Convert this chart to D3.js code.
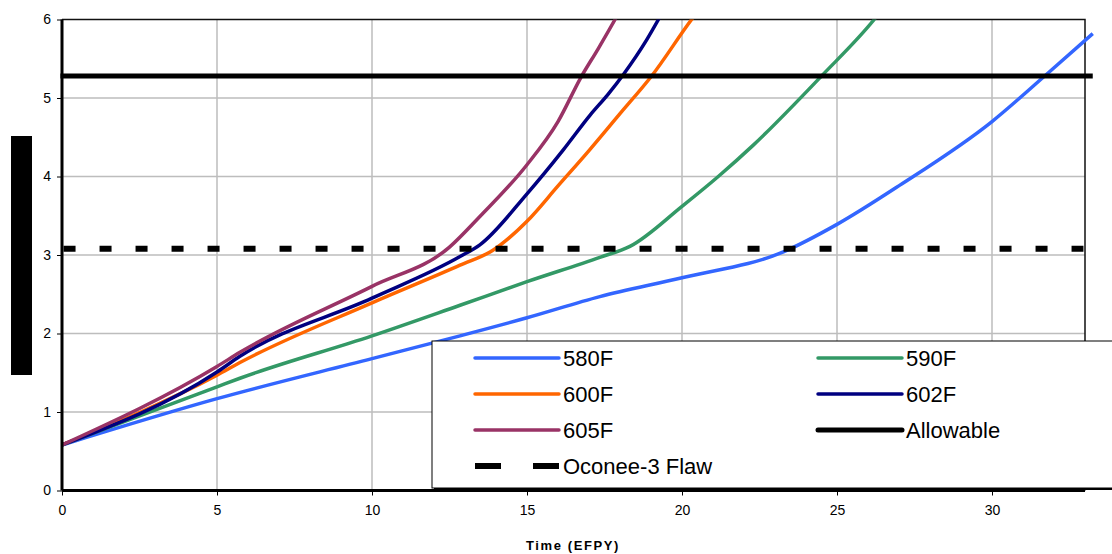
<!DOCTYPE html>
<html>
<head>
<meta charset="utf-8">
<script src="https://cdn.jsdelivr.net/npm/d3@7"></script>
<style>
  body { margin: 0; background: #fff; }
  svg { display: block; font-family: Arial, "Liberation Sans", sans-serif; }
</style>
</head>
<body>
<svg id="chart" width="1112" height="554"></svg>
<script>
// values: [time EFPY, depth]
let s580 = [[0,0.58],[5,1.17],[10,1.68],[12.84,1.97],[15,2.2],[17.35,2.47],[20,2.71],[23.27,3.04],[25,3.39],[27.03,3.89],[30,4.70],[31.7,5.28],[33.25,5.82]];
let s590 = [[0,0.58],[5,1.32],[5.74,1.43],[10,1.97],[12.84,2.36],[15,2.66],[17.35,2.97],[18.32,3.11],[20,3.62],[21.17,4.0],[22.3,4.4],[24.5,5.28],[26.2,6.0],[26.5,6.15]];
let s600 = [[0,0.58],[5,1.47],[5.74,1.63],[10,2.39],[12.84,2.87],[13.9,3.06],[15,3.43],[16,3.88],[17,4.33],[18,4.8],[19.02,5.28],[20.31,6.0],[20.6,6.15]];
let s602 = [[0,0.58],[5,1.51],[5.74,1.71],[10,2.45],[12.84,2.98],[13.48,3.13],[15,3.78],[16.17,4.34],[17.03,4.78],[17.62,5.05],[18.11,5.3],[18.86,5.74],[19.24,6.0],[19.45,6.15]];
let s605 = [[0,0.58],[5,1.58],[5.74,1.76],[10,2.6],[12.5,3.1],[13.48,3.49],[15,4.15],[16,4.7],[16.75,5.27],[17.3,5.63],[17.84,6.0],[18.05,6.15]];
let allowable = 5.28;
let flaw = 3.08;

let seriesNames = ["580F", "590F", "600F", "602F", "605F"];
let seriesColors = ["#3366ff", "#339966", "#ff6600", "#000080", "#993366"];
let seriesData = [s580, s590, s600, s602, s605];

let xTicks = [0, 5, 10, 15, 20, 25, 30];
let yTicks = [0, 1, 2, 3, 4, 5, 6];

let svg = d3.select("#chart");

let x = d3.scaleLinear().domain([0, 33]).range([62, 1085]);
let y = d3.scaleLinear().domain([0, 6]).range([490.5, 19.5]);

// gridlines
svg.append("g")
    .selectAll("line.vg")
    .data(xTicks.slice(1))
    .enter().append("line")
    .attr("x1", d => x(d)).attr("x2", d => x(d))
    .attr("y1", y(6)).attr("y2", y(0))
    .attr("stroke", "#bdbdbd").attr("stroke-width", 1.5);

svg.append("g")
    .selectAll("line.hg")
    .data(yTicks.slice(1, -1))
    .enter().append("line")
    .attr("x1", x(0)).attr("x2", x(33))
    .attr("y1", d => y(d)).attr("y2", d => y(d))
    .attr("stroke", "#bdbdbd").attr("stroke-width", 1.5);

// top and right border
svg.append("path")
    .attr("d", `M${x(0)},${y(6)}H${x(33)}V${y(0)}`)
    .attr("fill", "none").attr("stroke", "#111").attr("stroke-width", 1.5);

// clip curves at the top
svg.append("clipPath").attr("id", "clip")
    .append("rect")
    .attr("x", x(0)).attr("y", y(6))
    .attr("width", 1100 - x(0)).attr("height", y(0) - y(6));

let line = d3.line()
    .x(d => x(d[0])).y(d => y(d[1]))
    .curve(d3.curveMonotoneX);

svg.append("g").attr("clip-path", "url(#clip)")
    .selectAll("path")
    .data(seriesData)
    .enter().append("path")
    .attr("d", line)
    .attr("fill", "none")
    .attr("stroke", (d, i) => seriesColors[i])
    .attr("stroke-width", 3.5)
    .attr("stroke-linejoin", "round");

// allowable and flaw lines
svg.append("line")
    .attr("x1", x(-0.05)).attr("x2", x(33.25))
    .attr("y1", y(allowable)).attr("y2", y(allowable))
    .attr("stroke", "#000").attr("stroke-width", 5);

svg.append("line")
    .attr("x1", x(0.05)).attr("x2", x(32.95))
    .attr("y1", y(flaw)).attr("y2", y(flaw))
    .attr("stroke", "#000").attr("stroke-width", 6)
    .attr("stroke-dasharray", "12,24");

// axes
let xAxis = svg.append("g")
    .attr("transform", `translate(0,${y(0)})`)
    .call(d3.axisBottom(x).tickValues(xTicks).tickFormat(d3.format("d")).tickSize(5).tickPadding(10));
let yAxis = svg.append("g")
    .attr("transform", `translate(${x(0)},0)`)
    .call(d3.axisLeft(y).tickValues(yTicks).tickFormat(d3.format("d")).tickSize(5).tickPadding(6));

[xAxis, yAxis].forEach(function(a) {
    a.select(".domain").attr("stroke", "#000").attr("stroke-width", 3);
    a.selectAll(".tick line").attr("stroke", "#000").attr("stroke-width", 1);
    a.selectAll(".tick text")
        .attr("fill", "#000")
        .style("font-size", "14px")
        .style("font-family", "Arial, 'Liberation Sans', sans-serif");
});
xAxis.select(".domain").attr("d", `M${x(0)},0H${x(33)}`);
yAxis.select(".domain").attr("d", `M0,${y(0)}V${y(6)}`);

// axis titles
svg.append("text")
    .attr("x", 573).attr("y", 550)
    .attr("text-anchor", "middle")
    .style("font-size", "13px").style("font-weight", "bold")
    .style("letter-spacing", "1.6px")
    .text("Time (EFPY)");

// redacted y-axis title block
svg.append("rect")
    .attr("x", 11).attr("y", 136).attr("width", 21).attr("height", 239)
    .attr("fill", "#000");

// legend
let legend = svg.append("g");
legend.append("rect")
    .attr("x", 434).attr("y", 343).attr("width", 700).attr("height", 147)
    .attr("fill", "#000");
legend.append("rect")
    .attr("x", 432).attr("y", 341).attr("width", 700).attr("height", 147)
    .attr("fill", "#fff").attr("stroke", "#000").attr("stroke-width", 1);

let legendItems = seriesNames.map((n, i) => ({ name: n, color: seriesColors[i], w: 3.5, dash: null }));
legendItems.push({ name: "Allowable", color: "#000", w: 5, dash: null });
legendItems.push({ name: "Oconee-3 Flaw", color: "#000", w: 6, dash: "26,32" });

let item = legend.selectAll("g.item")
    .data(legendItems)
    .enter().append("g")
    .attr("transform", (d, i) => `translate(${i % 2 ? 818 : 475},${358 + Math.floor(i / 2) * 36})`);

item.append("line")
    .attr("x1", 0).attr("x2", 84)
    .attr("stroke", d => d.color)
    .attr("stroke-width", d => d.w)
    .attr("stroke-linecap", d => d.dash ? "butt" : "round")
    .attr("stroke-dasharray", d => d.dash);

item.append("text")
    .attr("x", 88).attr("y", 8)
    .style("font-size", "22px")
    .text(d => d.name);
</script>
</body>
</html>
